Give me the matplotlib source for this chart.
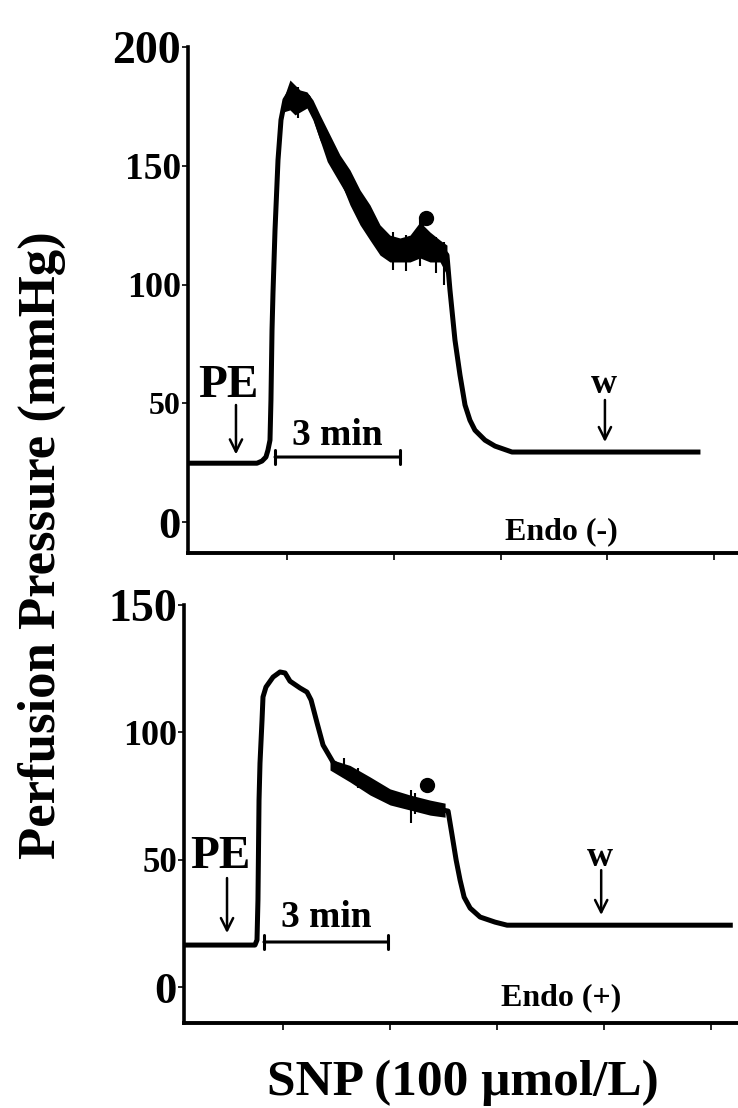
import matplotlib
matplotlib.use("Agg")
import matplotlib.pyplot as plt

plt.rcParams['font.family'] = ['Liberation Serif', 'DejaVu Serif']
plt.rcParams['font.weight'] = 'bold'

# ---- data (time in x-tick units, pressure in mmHg) ----
top_t = [0.092, 0.719, 0.766, 0.803, 0.822, 0.841, 0.850, 0.860, 0.869, 0.888,
         0.916, 0.944, 0.981, 1.028, 1.066, 1.103, 1.150, 1.197, 1.243, 1.290,
         1.337, 1.403, 1.468, 1.562, 1.655, 1.730, 1.777, 1.899, 2.030, 2.152,
         2.227, 2.273, 2.320, 2.461, 2.498, 2.526, 2.573, 2.620, 2.667, 2.713,
         2.760, 2.854, 2.948, 3.107, 4.848]
top_p = [24.8, 24.8, 25.7, 27.4, 30.3, 34.5, 51.4, 80.8, 96.4, 122.9,
         152.4, 169.3, 177.7, 181.1, 181.9, 177.7, 177.7, 178.9, 173.5, 167.2,
         160.8, 152.0, 147.0, 139.8, 131.4, 126.3, 123.8, 117.5, 115.8, 116.2,
         118.7, 122.1, 116.6, 114.5, 112.4, 97.7, 76.6, 61.9, 49.3, 42.9,
         38.7, 34.5, 32.0, 29.5, 29.5]

# noisy band of the top trace (upper / lower edges)
top_band_t = [0.963, 1.028, 1.075, 1.122, 1.187, 1.243, 1.309, 1.403, 1.496, 1.590,
              1.684, 1.777, 1.871, 1.964, 2.058, 2.152, 2.245, 2.339, 2.433, 2.498]
top_band_hi = [177.7, 186.1, 184.0, 181.9, 181.1, 177.7, 171.4, 162.9, 154.5, 148.2,
               139.8, 133.5, 125.1, 120.8, 119.6, 120.8, 126.3, 122.1, 118.7, 116.6]
top_band_lo = [172.6, 173.5, 171.4, 172.6, 174.3, 169.3, 160.8, 152.4, 144.0, 133.5,
               125.1, 118.7, 112.4, 109.5, 109.5, 109.5, 111.2, 109.5, 109.5, 104.0]

# single spikes on the top trace
top_spike_t = [1.103, 1.990, 2.110, 2.245, 2.275, 2.400, 2.470]
top_spike_lo = [170.0, 106.0, 105.5, 108.0, 112.0, 105.0, 100.0]
top_spike_hi = [183.0, 122.0, 121.0, 127.0, 126.5, 120.0, 118.0]

bot_t = [0.093, 0.738, 0.757, 0.766, 0.776, 0.785, 0.804, 0.813, 0.841, 0.907,
         0.972, 1.019, 1.065, 1.159, 1.224, 1.262, 1.318, 1.374, 1.467, 1.598,
         1.748, 1.879, 2.000, 2.159, 2.252, 2.439, 2.542, 2.579, 2.617, 2.654,
         2.692, 2.748, 2.841, 2.981, 3.093, 5.178]
bot_p = [16.5, 16.5, 18.5, 34.2, 73.4, 87.9, 104.8, 113.9, 117.8, 121.7,
         123.7, 123.3, 120.1, 117.4, 115.8, 112.7, 103.7, 95.0, 88.3, 84.4,
         80.5, 76.6, 74.6, 72.6, 71.8, 69.9, 69.1, 59.7, 49.9, 42.0,
         35.3, 31.0, 27.5, 25.5, 24.3, 24.3]

bot_band_t = [1.439, 1.626, 1.813, 2.000, 2.187, 2.374, 2.514]
bot_band_hi = [89.5, 87.0, 82.5, 77.8, 75.4, 73.4, 72.2]
bot_band_lo = [85.2, 80.5, 75.4, 71.5, 69.5, 67.5, 66.7]

bot_spike_t = [1.570, 1.700, 2.195, 2.235]
bot_spike_lo = [82.0, 78.0, 64.4, 68.0]
bot_spike_hi = [90.0, 86.0, 77.3, 76.0]

top_yticks = [0, 50, 100, 150, 200]
top_ytick_sizes = [32, 23, 26, 27, 33]
bot_yticks = [0, 50, 100, 150]
bot_ytick_sizes = [32, 25, 26, 33]
xticks = [1, 2, 3, 4, 5]

top_dot = (2.301, 128.0)
bot_dot = (2.346, 79.3)


def style_axes(ax, yticks, sizes, ylim, xlim):
    ax.set_xlim(*xlim)
    ax.set_ylim(*ylim)
    for s in ['top', 'right']:
        ax.spines[s].set_visible(False)
    ax.spines['left'].set_linewidth(2.6)
    ax.spines['bottom'].set_linewidth(2.8)
    ax.spines['left'].set_bounds(ylim[0], yticks[-1])
    ax.set_xticks(xticks)
    ax.set_xticklabels([])
    ax.tick_params(axis='x', direction='out', length=5, width=1.2)
    ax.set_yticks(yticks)
    ax.set_yticklabels([str(v) for v in yticks])
    ax.tick_params(axis='y', direction='out', length=4, width=1.2, pad=1)
    for lab, fs in zip(ax.get_yticklabels(), sizes):
        lab.set_fontsize(fs)
        lab.set_fontweight('bold')


def arrow(ax, x, y0, y1):
    ax.annotate('', xy=(x, y1), xytext=(x, y0),
                arrowprops=dict(arrowstyle='->', lw=1.8, color='black',
                                mutation_scale=22, shrinkA=0, shrinkB=0))


def scale_bar(ax, x0, x1, y):
    ax.annotate('', xy=(x0, y), xytext=(x1, y),
                arrowprops=dict(arrowstyle='|-|', lw=2.2, color='black',
                                mutation_scale=5, shrinkA=0, shrinkB=0))


fig = plt.figure(figsize=(7.38, 11.08), dpi=100)

# top panel: Endo (-)
ax1 = fig.add_axes([0.2547, 0.5009, 0.7453, 0.4567])
ax1.fill_between(top_band_t, top_band_lo, top_band_hi, color='black', lw=0)
ax1.vlines(top_spike_t, top_spike_lo, top_spike_hi, color='black', lw=1.5)
ax1.plot(top_t, top_p, color='black', lw=3.6, solid_joinstyle='round')
ax1.plot(*top_dot, 'o', color='black', ms=10)
style_axes(ax1, top_yticks, top_ytick_sizes, (-13.0, 200), (0.073, 5.223))
ax1.text(0.448, 57.3, 'PE', fontsize=34, ha='center', va='center')
arrow(ax1, 0.5225, 49.3, 28.5)
ax1.text(1.468, 36.5, '3 min', fontsize=27, ha='center', va='center')
scale_bar(ax1, 0.888, 2.058, 27.4)
ax1.text(3.968, 58.0, 'w', fontsize=26, ha='center', va='center')
arrow(ax1, 3.977, 51.4, 33.7)
ax1.text(3.566, -4.2, 'Endo (-)', fontsize=23, ha='center', va='center')

# bottom panel: Endo (+)
ax2 = fig.add_axes([0.2493, 0.0767, 0.7507, 0.3773])
ax2.fill_between(bot_band_t, bot_band_lo, bot_band_hi, color='black', lw=0)
ax2.vlines(bot_spike_t, bot_spike_lo, bot_spike_hi, color='black', lw=1.5)
ax2.plot(bot_t, bot_p, color='black', lw=3.6, solid_joinstyle='round')
ax2.plot(*bot_dot, 'o', color='black', ms=10)
style_axes(ax2, bot_yticks, bot_ytick_sizes, (-14.1, 150), (0.075, 5.25))
ax2.text(0.411, 51.0, 'PE', fontsize=34, ha='center', va='center')
arrow(ax2, 0.477, 42.8, 21.2)
ax2.text(1.402, 27.5, '3 min', fontsize=27, ha='center', va='center')
scale_bar(ax2, 0.822, 1.981, 17.7)
ax2.text(3.963, 51.0, 'w', fontsize=26, ha='center', va='center')
arrow(ax2, 3.972, 45.9, 28.3)
ax2.text(3.598, -4.3, 'Endo (+)', fontsize=23, ha='center', va='center')

fig.text(42 / 738, 1 - 545 / 1108, 'Perfusion Pressure (mmHg)', rotation=90,
         fontsize=38, fontweight='bold', ha='center', va='center')
fig.text(463 / 738, 1 - 1083 / 1108, 'SNP (100 \u03bcmol/L)',
         fontsize=37, fontweight='bold', ha='center', va='center')

fig.savefig('out.png', dpi=100)
